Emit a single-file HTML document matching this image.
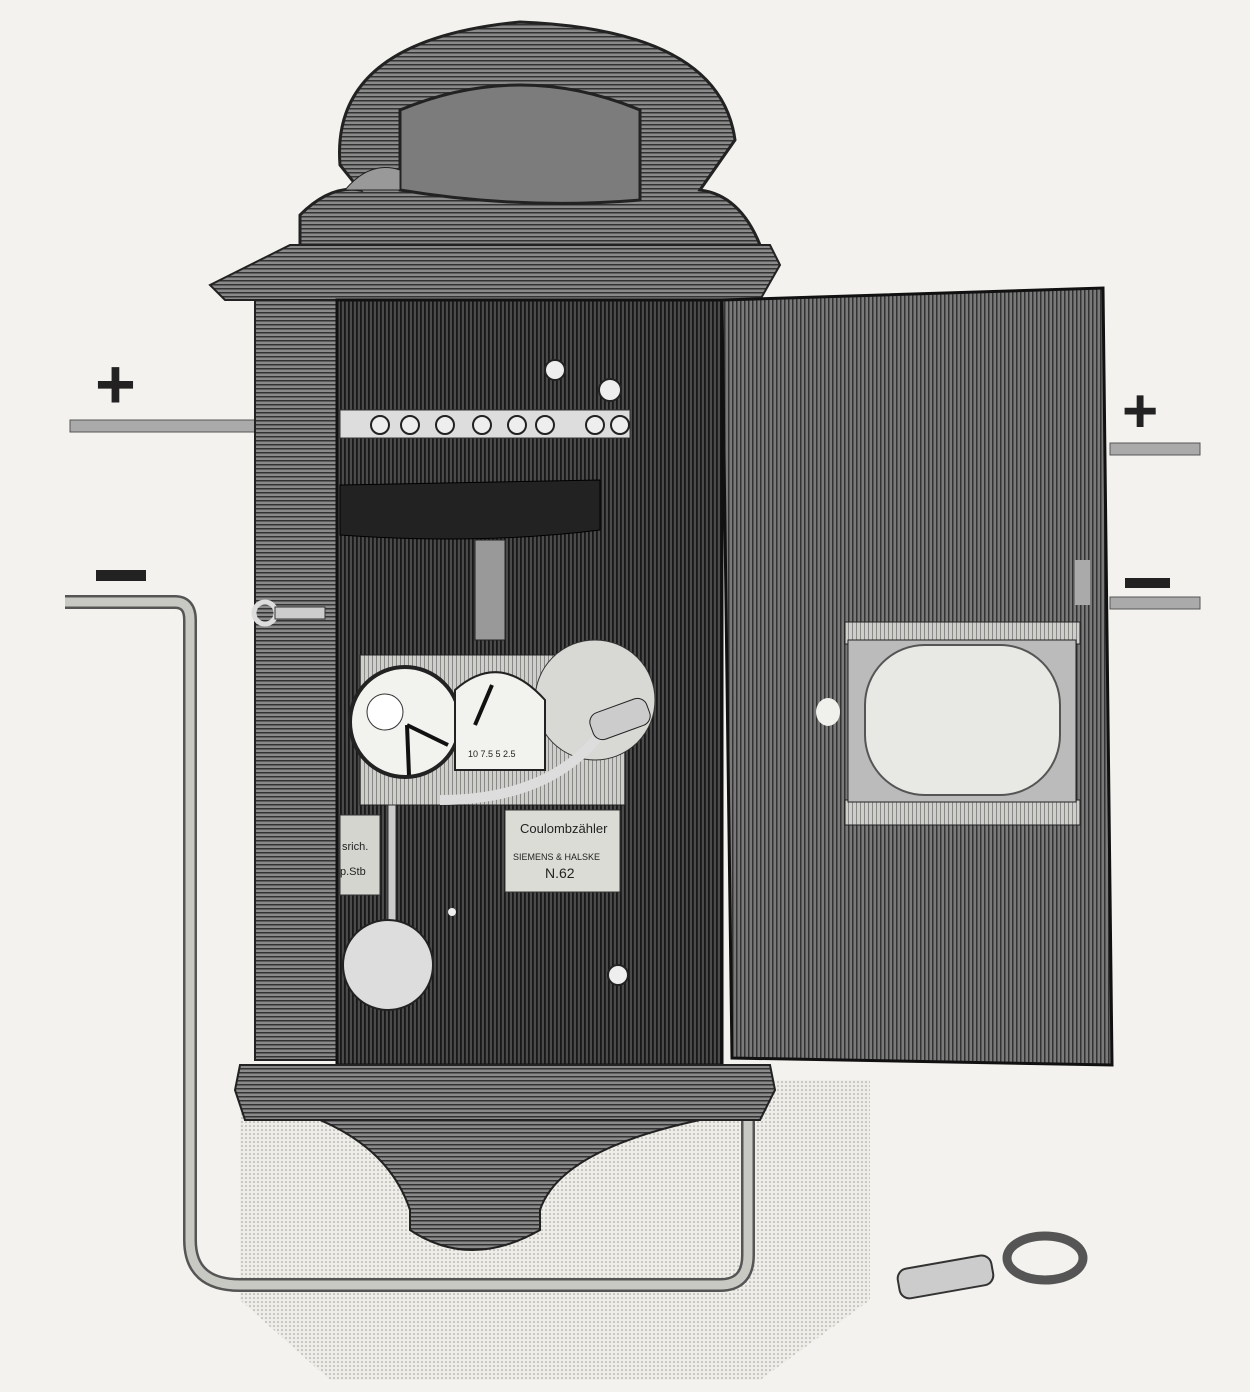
<!DOCTYPE html>
<html><head><meta charset="utf-8"><style>
html,body{margin:0;padding:0;background:#f3f2ee;}
svg{display:block;font-family:"Liberation Sans",sans-serif;}
</style></head><body>
<svg width="1250" height="1392" viewBox="0 0 1250 1392" xmlns="http://www.w3.org/2000/svg">
<defs>
<pattern id="vs" width="4" height="4" patternUnits="userSpaceOnUse"><rect width="4" height="4" fill="#7a7a7a"/><rect width="1.5" height="4" fill="#333"/></pattern>
<pattern id="vsd" width="4" height="4" patternUnits="userSpaceOnUse"><rect width="4" height="4" fill="#4a4a4a"/><rect width="1.8" height="4" fill="#181818"/></pattern>
<pattern id="hs" width="4" height="4" patternUnits="userSpaceOnUse"><rect width="4" height="4" fill="#8a8a8a"/><rect width="4" height="1.5" fill="#333"/></pattern>
<pattern id="dots" width="4" height="4" patternUnits="userSpaceOnUse"><rect width="4" height="4" fill="#eeede8"/><circle cx="2" cy="2" r="0.8" fill="#999"/></pattern>
<pattern id="lt" width="4" height="4" patternUnits="userSpaceOnUse"><rect width="4" height="4" fill="#cfcfca"/><rect width="1" height="4" fill="#888"/></pattern>
</defs>
<rect width="1250" height="1392" fill="#f3f2ee"/>
<path d="M240 1080 L870 1080 L870 1300 L760 1380 L330 1380 L240 1300 Z" fill="url(#dots)"/>
<path d="M65 602 L175 602 Q190 602 190 620 L190 1240 Q190 1285 240 1285 L720 1285 Q748 1285 748 1255 L748 1120" fill="none" stroke="#555" stroke-width="14"/>
<path d="M65 602 L175 602 Q190 602 190 620 L190 1240 Q190 1285 240 1285 L720 1285 Q748 1285 748 1255 L748 1120" fill="none" stroke="#c9c9c4" stroke-width="9"/>
<rect x="70" y="420" width="190" height="12" fill="#aaa" stroke="#555"/>
<rect x="1110" y="443" width="90" height="12" fill="#aaa" stroke="#555"/>
<rect x="1110" y="597" width="90" height="12" fill="#aaa" stroke="#555"/>
<text x="95" y="408" font-size="70" font-weight="bold" fill="#222">+</text>
<rect x="96" y="570" width="50" height="11" fill="#222"/>
<text x="1122" y="432" font-size="62" font-weight="bold" fill="#222">+</text>
<rect x="1125" y="578" width="45" height="10" fill="#222"/>
<!-- crest -->
<path d="M300 245 L300 215 Q330 185 360 190 L340 165 Q330 40 520 22 Q720 30 735 140 L700 190 Q740 195 760 245 Z" fill="url(#hs)" stroke="#222" stroke-width="3"/>
<path d="M400 190 L400 110 Q520 60 640 110 L640 200 Q520 210 400 190 Z" fill="#7c7c7c" stroke="#222" stroke-width="3"/>
<path d="M345 190 Q370 160 400 170 L400 190 Z" fill="#999" stroke="#222"/>
<path d="M290 245 L770 245 L780 265 L760 300 L225 300 L210 285 Z" fill="url(#hs)" stroke="#222" stroke-width="2"/>
<rect x="255" y="300" width="82" height="760" fill="url(#hs)" stroke="#222" stroke-width="2"/>
<rect x="337" y="300" width="385" height="765" fill="url(#vsd)" stroke="#111" stroke-width="3"/>
<rect x="340" y="410" width="290" height="28" fill="#ddd" stroke="#333"/>
<g fill="#eee" stroke="#222" stroke-width="2"><circle cx="380" cy="425" r="9"/><circle cx="410" cy="425" r="9"/><circle cx="445" cy="425" r="9"/><circle cx="482" cy="425" r="9"/><circle cx="517" cy="425" r="9"/><circle cx="545" cy="425" r="9"/><circle cx="595" cy="425" r="9"/><circle cx="620" cy="425" r="9"/><circle cx="610" cy="390" r="11"/><circle cx="555" cy="370" r="10"/></g>
<path d="M340 485 L600 480 L600 530 Q480 545 340 535 Z" fill="#222" stroke="#000"/>
<rect x="475" y="540" width="30" height="100" fill="#999" stroke="#222"/>
<rect x="360" y="655" width="265" height="150" fill="url(#lt)" stroke="#222"/>
<ellipse cx="595" cy="700" rx="60" ry="60" fill="#d8d8d4" stroke="#333"/>
<circle cx="405" cy="722" r="55" fill="#f2f2ee" stroke="#222" stroke-width="4"/>
<circle cx="385" cy="712" r="18" fill="#fff" stroke="#333"/>
<line x1="407" y1="725" x2="448" y2="745" stroke="#111" stroke-width="4"/>
<line x1="407" y1="725" x2="409" y2="775" stroke="#111" stroke-width="4"/>
<path d="M455 690 Q500 650 545 700 L545 770 L455 770 Z" fill="#f2f2ee" stroke="#222" stroke-width="2"/>
<line x1="475" y1="725" x2="492" y2="685" stroke="#111" stroke-width="4"/>
<text x="468" y="757" font-size="9" fill="#222">10  7.5  5  2.5</text>
<path d="M440 800 Q560 800 610 720" fill="none" stroke="#ddd" stroke-width="10"/>
<rect x="590" y="705" width="60" height="28" rx="10" fill="#ccc" stroke="#222" transform="rotate(-20 620 719)"/>
<rect x="505" y="810" width="115" height="82" fill="#dcdcd6" stroke="#333"/>
<text x="520" y="833" font-size="13" fill="#222">Coulombzähler</text>
<text x="513" y="860" font-size="9" fill="#222">SIEMENS &amp; HALSKE</text>
<text x="545" y="878" font-size="14" fill="#222">N.62</text>
<rect x="340" y="815" width="40" height="80" fill="#d5d5d0" stroke="#333"/>
<text x="342" y="850" font-size="11" fill="#222">srich.</text>
<text x="340" y="875" font-size="11" fill="#222">p.Stb</text>
<rect x="388" y="805" width="8" height="120" fill="#ccc" stroke="#333"/>
<circle cx="388" cy="965" r="45" fill="#ddd" stroke="#222" stroke-width="2"/>
<circle cx="618" cy="975" r="10" fill="#eee" stroke="#222" stroke-width="2"/>
<circle cx="452" cy="912" r="4" fill="#eee"/>
<circle cx="265" cy="613" r="11" fill="none" stroke="#ddd" stroke-width="5"/>
<rect x="275" y="607" width="50" height="12" fill="#ccc" stroke="#333"/>
<path d="M722 300 L1103 288 L1112 1065 L732 1058 Z" fill="url(#vs)" stroke="#111" stroke-width="3"/>
<rect x="845" y="622" width="235" height="22" fill="url(#lt)" stroke="#222"/>
<rect x="845" y="800" width="235" height="25" fill="url(#lt)" stroke="#222"/>
<rect x="848" y="640" width="228" height="162" fill="#bbb" stroke="#222"/>
<rect x="865" y="645" width="195" height="150" rx="60" fill="#e8e8e4" stroke="#555" stroke-width="2"/>
<ellipse cx="828" cy="712" rx="12" ry="14" fill="#f0f0ec"/>
<rect x="1075" y="560" width="15" height="45" fill="#aaa"/>
<path d="M240 1065 L770 1065 L775 1090 L760 1120 L245 1120 L235 1090 Z" fill="url(#hs)" stroke="#222" stroke-width="2"/>
<path d="M320 1120 L700 1120 Q560 1150 540 1210 L540 1230 Q470 1270 410 1230 L410 1210 Q390 1150 320 1120 Z" fill="url(#hs)" stroke="#222" stroke-width="2"/>
<rect x="898" y="1262" width="95" height="30" rx="10" fill="#ccc" stroke="#333" stroke-width="2" transform="rotate(-10 945 1277)"/>
<ellipse cx="1045" cy="1258" rx="38" ry="22" fill="none" stroke="#555" stroke-width="9"/>
</svg>
</body></html>
